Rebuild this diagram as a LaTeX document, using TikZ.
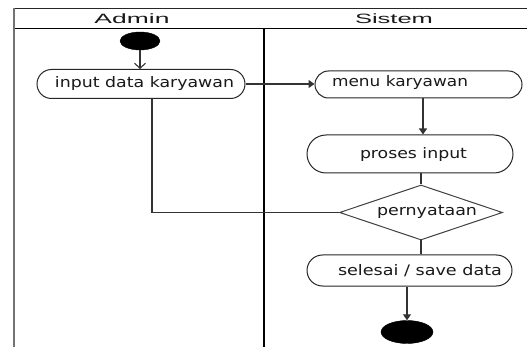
\documentclass[tikz,border=0pt]{standalone}
\usepackage{fontspec}
\setmainfont{DejaVu Sans}
\newfontfamily\headfont{Liberation Sans}
\usetikzlibrary{shapes.misc,shapes.geometric,arrows.meta}
\newcommand{\nodetext}[2]{\resizebox{#1pt}{\height}{\fontsize{14.5}{15}\selectfont #2}}
\newcommand{\headtext}[2]{\resizebox{#1pt}{\height}{\headfont\fontsize{13.5}{14}\selectfont #2}}
\tikzset{
  act/.style={rounded rectangle, draw=black!85, line width=1pt, inner sep=0pt, fill=white},
  dec/.style={diamond, draw=black!75, line width=1pt, inner sep=0pt, fill=white},
  startend/.style={ellipse, fill=black, draw=black, inner sep=0pt},
  txt/.style={inner sep=0pt, text=black!90},
  conn/.style={draw=black!80, line width=1.1pt},
  arr/.style={conn, -{Triangle[length=6pt,width=8pt]}},
  openarr/.style={conn, -{Straight Barb[length=5pt,width=11pt]}},
}
\begin{document}
\begin{tikzpicture}[x=1pt,y=-1pt]
\useasboundingbox (0,0) rectangle (527,347);
\clip (0,0) rectangle (527,347);
% swimlane frame
\draw[black!85, line width=1pt] (14,9) -- (540,9);
\draw[black, line width=1.2pt] (14,28.5) -- (540,28.5);
\draw[black!55, line width=2.6pt] (14,8.5) -- (14,360);
\draw[black, line width=1.5pt] (264,28.5) -- (264,360);
\node[txt] (hAdmin) at (132,18.5) {\headtext{75}{Admin}};
\node[txt] (hSistem) at (394,18.5) {\headtext{78}{Sistem}};
% nodes
\node[startend, minimum width=40pt, minimum height=18pt] (start) at (140,41) {};
\node[act, minimum width=208pt, minimum height=29pt] (input) at (141,84) {};
\node[txt] (tinput) at (144.5,84) {\nodetext{179}{input data karyawan}};
\node[act, minimum width=207pt, minimum height=27pt] (menu) at (418.5,84.5) {};
\node[txt] (tmenu) at (400,83) {\nodetext{136}{menu karyawan}};
\node[act, minimum width=206pt, minimum height=38pt] (proses) at (410,154) {};
\node[txt] (tproses) at (413.5,155) {\nodetext{107}{proses input}};
\node[dec, minimum width=163pt, minimum height=55pt] (dia) at (421,212.5) {};
\node[txt] (tdia) at (427,212) {\nodetext{100}{pernyataan}};
\node[act, minimum width=205pt, minimum height=31pt] (selesai) at (409.5,270.5) {};
\node[txt] (tselesai) at (420,271) {\nodetext{164}{selesai / save data}};
\node[startend, minimum width=52pt, minimum height=23pt] (end) at (407,332) {};
% connectors
\draw[openarr] (start.south) -- (start.south |- input.north);
\draw[arr] (input.east) -- (input.east -| menu.west);
\draw[arr] ([xshift=4.5pt]menu.south) -- ([xshift=4.5pt]menu.south |- proses.north);
\draw[conn] (dia.north |- proses.south) -- (dia.north);
\draw[conn] (dia.south) -- (dia.south |- selesai.north);
\draw[arr] (end.north |- selesai.south) -- (end.north);
\draw[conn] ([xshift=11pt]input.south) |- (dia.west);
\end{tikzpicture}
\end{document}
